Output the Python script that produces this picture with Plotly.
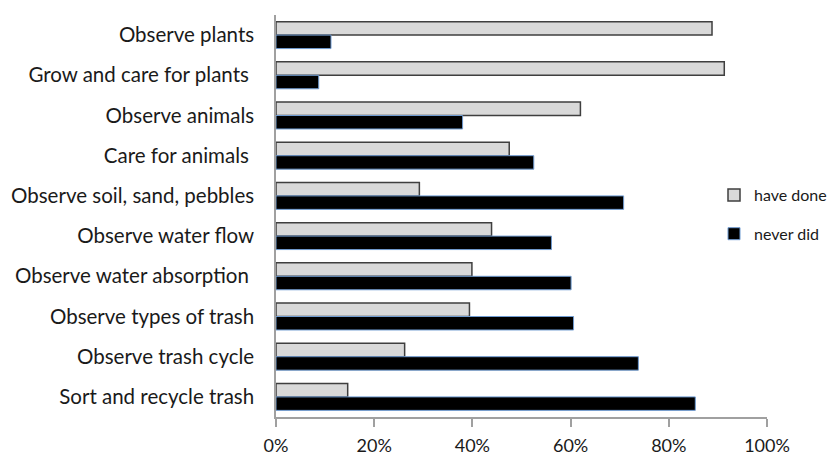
import plotly.graph_objects as go

categories = [
    "Observe plants",
    "Grow and care for plants ",
    "Observe animals",
    "Care for animals ",
    "Observe soil, sand, pebbles",
    "Observe water flow",
    "Observe water absorption ",
    "Observe types of trash",
    "Observe trash cycle",
    "Sort and recycle trash",
]
have_done = [0.888, 0.913, 0.620, 0.475, 0.292, 0.439, 0.399, 0.394, 0.262, 0.146]
never_did = [0.112, 0.087, 0.380, 0.525, 0.708, 0.561, 0.601, 0.606, 0.738, 0.854]
x_ticks = [0, 0.2, 0.4, 0.6, 0.8, 1.0]
x_tick_labels = ["0%", "20%", "40%", "60%", "80%", "100%"]

FONT = "Lato"

fig = go.Figure()
fig.add_trace(go.Bar(
    y=categories, x=have_done, name="have done", orientation="h",
    marker=dict(color="#d9d9d9", line=dict(color="#3f3f3f", width=1.5)),
    legendgroup="a",
))
fig.add_trace(go.Bar(
    y=categories, x=never_did, name="never did", orientation="h",
    marker=dict(color="#000000", line=dict(color="#6f9bd1", width=1)),
    legendgroup="b",
))

fig.update_layout(
    width=828, height=458,
    margin=dict(l=276, r=61, t=15, b=41, autoexpand=False),
    paper_bgcolor="white", plot_bgcolor="white",
    barmode="group", bargap=0.33, bargroupgap=0,
    font=dict(family=FONT, size=16, color="#1a1a1a"),
    showlegend=True,
    legend=dict(
        xref="container", yref="container",
        x=714 / 828, y=1 - 178 / 458, xanchor="left", yanchor="top",
        font=dict(family=FONT, size=16, color="#1a1a1a"),
        bgcolor="rgba(0,0,0,0)", tracegroupgap=15,
        itemwidth=30,
    ),
    xaxis=dict(
        range=[0, 1], tickvals=x_ticks, ticktext=x_tick_labels,
        showline=True, linecolor="#a0a0a0", linewidth=1.5,
        ticks="outside", tickcolor="#a0a0a0", ticklen=8, tickwidth=1.5,
        showgrid=False, zeroline=False, automargin=False,
        ticklabelstandoff=4,
        tickfont=dict(family=FONT, size=18, color="#1a1a1a"),
    ),
    yaxis=dict(
        autorange="reversed",
        showline=True, linecolor="#a0a0a0", linewidth=1.5,
        ticks="", showgrid=False, zeroline=False, automargin=False,
        ticklabelstandoff=16,
        tickfont=dict(family=FONT, size=20.5, color="#1a1a1a"),
    ),
)

fig.write_html(
    "out.html",
    config={"displayModeBar": False},
    post_script="document.body.style.margin='0px';document.body.style.overflow='hidden';",
)
